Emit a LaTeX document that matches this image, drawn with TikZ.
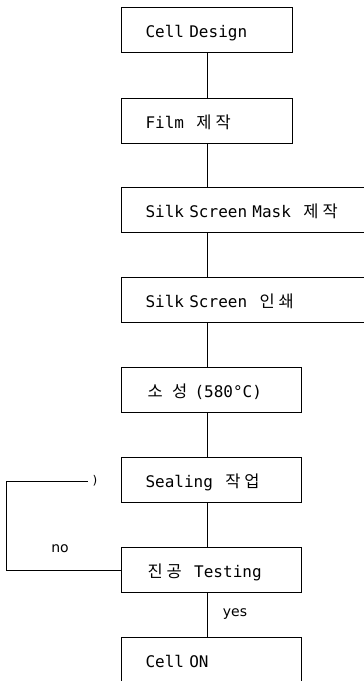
\documentclass[tikz,border=0pt]{standalone}
\usepackage{fontspec}
\newfontfamily\mono{DejaVu Sans Mono}
\newfontfamily\sansf{DejaVu Sans}
\newfontfamily\kr{Noto Sans CJK KR}
\newcommand\kk[1]{\makebox[19.2pt][c]{\kr\fontsize{16.5}{18}\selectfont #1}}
\newcommand\kg{\hspace{5pt}}
\newcommand\monobox{\mono\fontsize{16}{18}\selectfont\spaceskip=0.602em\relax\xspaceskip=0.602em\relax}
\begin{document}
\begin{tikzpicture}[x=1pt,y=-1pt, line width=1pt,
  box/.style={draw, anchor=north west, minimum height=45pt,
    inner xsep=24pt, inner ysep=0pt, align=left, text height=15pt, text depth=0pt,
    font=\monobox},
  narrow/.style={box, text width=123pt},
  mid/.style={box, text width=132pt},
  wide/.style={box, text width=220pt},
  lbl/.style={font=\sansf\fontsize{14}{16}\selectfont, inner sep=0pt}]
\useasboundingbox (0,0) rectangle (364,681);
\clip (0,0) rectangle (364,681);
\coordinate (col) at (207,0);
\node[narrow] (cd)   at (121,7)   {Cell Design};
\node[narrow] (film) at (121,98)  {Film \kg\kk{제}\kk{작}};
\node[wide]   (mask) at (121,187) {Silk Screen Mask \kg\kk{제}\kk{작}};
\node[wide]   (prnt) at (121,277) {Silk Screen \kg\kk{인}\kk{쇄}};
\node[mid]    (fire) at (121,367) {\kk{소} \kk{성} (580°C)};
\node[mid]    (seal) at (121,457) {Sealing \kg\kk{작}\kk{업}};
\node[mid]    (test) at (121,547) {\kk{진}\kk{공}\kg{} Testing};
\node[mid]    (on)   at (121,637) {Cell ON};
\draw (cd.south -| col) -- (film.north -| col);
\draw (film.south -| col) -- (mask.north -| col);
\draw (mask.south -| col) -- (prnt.north -| col);
\draw (prnt.south -| col) -- (fire.north -| col);
\draw (fire.south -| col) -- (seal.north -| col);
\draw (seal.south -| col) -- (test.north -| col);
\draw (test.south -| col) -- (on.north -| col);
\coordinate (lc) at (6,481);
\coordinate (le) at (88,481);
\draw (test.west) -| (lc) -- (le);
\node[font=\sansf\fontsize{12}{14}\selectfont, inner sep=0pt] (tip) at (95,481) {)};
\node[lbl] (no) at (60,549) {no};
\node[lbl] (yes) at (235,614) {yes};
\end{tikzpicture}
\end{document}
